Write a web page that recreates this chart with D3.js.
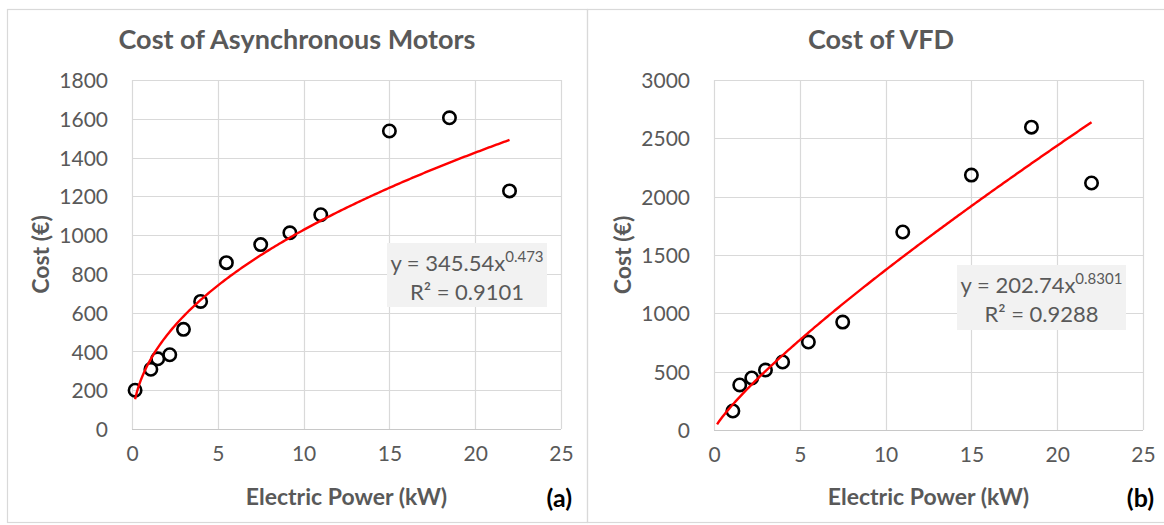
<!DOCTYPE html>
<html>
<head>
<meta charset="utf-8">
<script src="https://cdn.jsdelivr.net/npm/d3@7"></script>
<style>
  body { margin: 0; background: #ffffff; }
  .chart text { font-family: Lato, "Open Sans", sans-serif; fill: #595959; }
</style>
</head>
<body>
<div class="chart"></div>
<script>
var svgWidth = 1164;
var svgHeight = 525;

// Asynchronous motors: rated power (kW) and cost (€)
var motorPower = [0.18, 1.1, 1.5, 2.2, 3, 4, 5.5, 7.5, 9.2, 11, 15, 18.5, 22];
var motorCost = [200, 308, 362, 383, 514, 658, 858, 951, 1012, 1105, 1537, 1605, 1228];

// VFD: rated power (kW) and cost (€)
var vfdPower = [1.1, 1.5, 2.2, 3, 4, 5.5, 7.5, 11, 15, 18.5, 22];
var vfdCost = [163, 386, 446, 514, 583, 754, 925, 1697, 2185, 2596, 2117];

// power trendlines y = a * x^b as printed on the chart
var motorFit = { a: 345.54, b: 0.473, aText: "345.54", bText: "0.473", r2Text: "0.9101" };
var vfdFit = { a: 202.74, b: 0.8301, aText: "202.74", bText: "0.8301", r2Text: "0.9288" };
var fitRange = [0.18, 22];

// tick labels
var powerTicks = [0, 5, 10, 15, 20, 25];
var motorCostTicks = [0, 200, 400, 600, 800, 1000, 1200, 1400, 1600, 1800];
var vfdCostTicks = [0, 500, 1000, 1500, 2000, 2500, 3000];

var svg = d3.select(".chart")
  .append("svg")
  .attr("width", svgWidth)
  .attr("height", svgHeight);

var panels = [
  {
    title: "Cost of Asynchronous Motors", tag: "(a)",
    power: motorPower, cost: motorCost, fit: motorFit, yTicks: motorCostTicks,
    frame: { x: 7, y: 9, w: 580, h: 513 },
    plot: { left: 132, right: 561, top: 80, bottom: 429 },
    box: { x: 387, y: 243, w: 160, h: 64 }
  },
  {
    title: "Cost of VFD", tag: "(b)",
    power: vfdPower, cost: vfdCost, fit: vfdFit, yTicks: vfdCostTicks,
    frame: { x: 587, y: 9, w: 588, h: 513 },
    plot: { left: 714, right: 1143, top: 80, bottom: 430 },
    box: { x: 957, y: 265, w: 169, h: 65 }
  }
];

panels.forEach(function(p) {
  var g = svg.append("g");

  // outer chart frame
  g.append("rect")
    .attr("x", p.frame.x + 0.5)
    .attr("y", p.frame.y + 0.5)
    .attr("width", p.frame.w)
    .attr("height", p.frame.h)
    .attr("fill", "none")
    .attr("stroke", "#d9d9d9")
    .attr("stroke-width", 1.2);

  var xScale = d3.scaleLinear()
    .domain([0, 25])
    .range([p.plot.left, p.plot.right]);

  var yScale = d3.scaleLinear()
    .domain([0, d3.max(p.yTicks)])
    .range([p.plot.bottom, p.plot.top]);

  // gridlines
  g.append("g")
    .selectAll("line")
    .data(p.yTicks)
    .enter()
    .append("line")
    .attr("x1", p.plot.left)
    .attr("x2", p.plot.right)
    .attr("y1", d => Math.round(yScale(d)) + 0.5)
    .attr("y2", d => Math.round(yScale(d)) + 0.5)
    .attr("stroke", d => d === 0 ? "#c8c8c8" : "#d9d9d9")
    .attr("stroke-width", 1.2);

  g.append("g")
    .selectAll("line")
    .data(powerTicks)
    .enter()
    .append("line")
    .attr("x1", d => Math.round(xScale(d)) + 0.5)
    .attr("x2", d => Math.round(xScale(d)) + 0.5)
    .attr("y1", p.plot.top)
    .attr("y2", p.plot.bottom)
    .attr("stroke", "#d9d9d9")
    .attr("stroke-width", 1.2);

  // axes, only for their labels
  var bottomAxis = d3.axisBottom(xScale)
    .tickValues(powerTicks)
    .tickFormat(d3.format("d"))
    .tickSize(0)
    .tickPadding(0);
  var leftAxis = d3.axisLeft(yScale)
    .tickValues(p.yTicks)
    .tickFormat(d3.format("d"))
    .tickSize(0)
    .tickPadding(0);

  var xAxis = g.append("g")
    .attr("transform", `translate(0, ${p.plot.bottom + 26})`)
    .call(bottomAxis);
  xAxis.select(".domain").remove();
  xAxis.selectAll("text")
    .attr("dy", "0.3em")
    .style("font-size", "21px");

  var yAxis = g.append("g")
    .attr("transform", `translate(${p.plot.left - 24}, 0)`)
    .call(leftAxis);
  yAxis.select(".domain").remove();
  yAxis.selectAll("text")
    .attr("dy", "0.36em")
    .style("font-size", "21px");

  // title and axis titles
  g.append("text")
    .attr("x", p.frame.x + p.frame.w / 2)
    .attr("y", 49)
    .attr("text-anchor", "middle")
    .style("font-size", "27px")
    .style("font-weight", "bold")
    .text(p.title);

  g.append("text")
    .attr("x", (p.plot.left + p.plot.right) / 2)
    .attr("y", 505)
    .attr("text-anchor", "middle")
    .style("font-size", "23px")
    .style("font-weight", "bold")
    .text("Electric Power (kW)");

  g.append("text")
    .attr("transform", `translate(${p.plot.left - 83}, ${(p.plot.top + p.plot.bottom) / 2}) rotate(-90)`)
    .attr("text-anchor", "middle")
    .style("font-size", "23px")
    .style("font-weight", "bold")
    .text("Cost (€)");

  g.append("text")
    .attr("x", p.plot.right + 11)
    .attr("y", 507)
    .attr("text-anchor", "end")
    .style("font-size", "25px")
    .style("font-weight", "bold")
    .style("fill", "#000000")
    .text(p.tag);

  // equation label
  g.append("rect")
    .attr("x", p.box.x)
    .attr("y", p.box.y)
    .attr("width", p.box.w)
    .attr("height", p.box.h)
    .attr("fill", "#f2f2f2");

  var eq = g.append("text")
    .attr("x", p.box.x + p.box.w / 2)
    .attr("y", p.box.y + 28)
    .attr("text-anchor", "middle")
    .style("font-size", "22px");
  eq.append("tspan").text("y = " + p.fit.aText + "x");
  eq.append("tspan")
    .attr("dy", -9)
    .style("font-size", "15px")
    .text(p.fit.bText);

  g.append("text")
    .attr("x", p.box.x + p.box.w / 2)
    .attr("y", p.box.y + 57)
    .attr("text-anchor", "middle")
    .style("font-size", "22px")
    .text("R² = " + p.fit.r2Text);

  // trendline
  var fitX = d3.range(0, 201).map(i => fitRange[0] + (fitRange[1] - fitRange[0]) * i / 200);
  var line = d3.line()
    .x(d => xScale(d))
    .y(d => yScale(p.fit.a * Math.pow(d, p.fit.b)));

  // markers
  g.append("g")
    .selectAll("circle")
    .data(p.power)
    .enter()
    .append("circle")
    .attr("cx", d => xScale(d))
    .attr("cy", (d, i) => yScale(p.cost[i]))
    .attr("r", 6.2)
    .attr("fill", "none")
    .attr("stroke", "#000000")
    .attr("stroke-width", 2.6);

  g.append("path")
    .datum(fitX)
    .attr("d", line)
    .attr("fill", "none")
    .attr("stroke", "#ff0000")
    .attr("stroke-width", 2.4);
});
</script>
</body>
</html>
